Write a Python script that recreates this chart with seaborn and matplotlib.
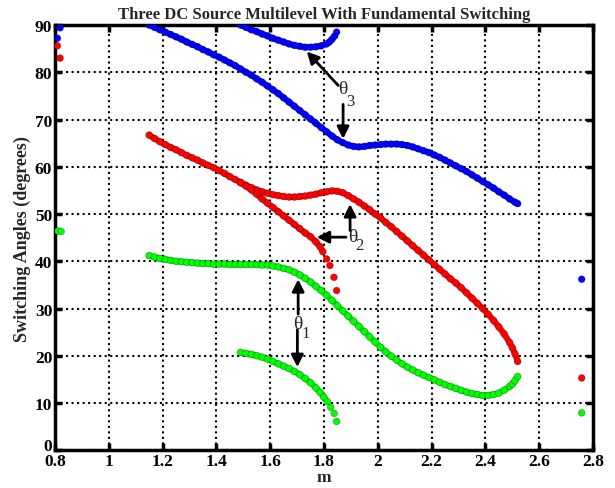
import pandas as pd
import seaborn as sns
import matplotlib
matplotlib.use("Agg")
import matplotlib.pyplot as plt

# Switching angle solutions (m, degrees)
# theta3 (blue)
blue_long_m = [1.15, 1.17, 1.19, 1.21, 1.23, 1.25, 1.27, 1.29, 1.31, 1.33, 1.35, 1.37, 1.39, 1.41,
               1.43, 1.45, 1.47, 1.49, 1.51, 1.53, 1.55, 1.57, 1.59, 1.61, 1.63, 1.65, 1.67, 1.69,
               1.71, 1.73, 1.75, 1.77, 1.79, 1.81, 1.83, 1.85, 1.87, 1.89, 1.91, 1.93, 1.95, 1.97,
               1.99, 2.01, 2.03, 2.05, 2.07, 2.09, 2.11, 2.13, 2.15, 2.17, 2.19, 2.21, 2.23, 2.25,
               2.27, 2.29, 2.31, 2.33, 2.35, 2.37, 2.39, 2.41, 2.43, 2.45, 2.47, 2.49, 2.51, 2.52]
blue_long = [90.0, 89.5, 89.0, 88.5, 88.0, 87.5, 87.0, 86.4, 85.9, 85.4, 84.8, 84.3, 83.7, 83.2,
             82.6, 82.0, 81.4, 80.7, 80.0, 79.4, 78.6, 77.9, 77.1, 76.3, 75.5, 74.6, 73.7, 72.8,
             71.9, 71.0, 70.1, 69.2, 68.3, 67.4, 66.5, 65.7, 65.1, 64.6, 64.3, 64.2, 64.3, 64.5,
             64.6, 64.7, 64.8, 64.8, 64.8, 64.7, 64.5, 64.2, 63.8, 63.4, 63.0, 62.5, 62.0, 61.4,
             60.8, 60.2, 59.6, 59.0, 58.3, 57.6, 56.9, 56.2, 55.5, 54.7, 54.0, 53.2, 52.5, 52.2]
blue_short_m = [1.49, 1.51, 1.53, 1.55, 1.57, 1.59, 1.61, 1.63, 1.65, 1.67, 1.69, 1.71, 1.73,
                1.75, 1.77, 1.79, 1.81, 1.82, 1.83, 1.84, 1.847]
blue_short = [90.0, 89.5, 89.0, 88.6, 88.1, 87.7, 87.2, 86.8, 86.4, 86.0, 85.7, 85.5, 85.3,
              85.3, 85.4, 85.6, 86.0, 86.4, 87.0, 87.7, 88.5]

# theta2 (red)
red_long_m = [1.15, 1.17, 1.19, 1.21, 1.23, 1.25, 1.27, 1.29, 1.31, 1.33, 1.35, 1.37, 1.39, 1.41,
              1.43, 1.45, 1.47, 1.49, 1.51, 1.53, 1.55, 1.57, 1.59, 1.61, 1.63, 1.65, 1.67, 1.69,
              1.71, 1.73, 1.75, 1.77, 1.79, 1.81, 1.83, 1.85, 1.87, 1.89, 1.91, 1.93, 1.95, 1.97,
              1.99, 2.01, 2.03, 2.05, 2.07, 2.09, 2.11, 2.13, 2.15, 2.17, 2.19, 2.21, 2.23, 2.25,
              2.27, 2.29, 2.31, 2.33, 2.35, 2.37, 2.39, 2.41, 2.43, 2.45, 2.47, 2.49, 2.50, 2.51, 2.52]
red_long = [66.7, 66.0, 65.3, 64.7, 64.1, 63.6, 63.0, 62.4, 61.9, 61.4, 60.8, 60.3, 59.8, 59.2,
            58.6, 57.9, 57.3, 56.7, 56.1, 55.6, 55.1, 54.7, 54.4, 54.1, 53.9, 53.7, 53.6, 53.6,
            53.7, 53.8, 54.0, 54.2, 54.5, 54.7, 54.9, 54.8, 54.5, 53.9, 53.2, 52.5, 51.7, 50.9,
            50.0, 49.2, 48.2, 47.3, 46.3, 45.3, 44.3, 43.3, 42.3, 41.3, 40.3, 39.3, 38.3, 37.3,
            36.3, 35.4, 34.4, 33.3, 32.2, 31.1, 30.0, 28.8, 27.5, 26.1, 24.6, 22.8, 21.7, 20.4, 18.8]
red_short_m = [1.49, 1.51, 1.53, 1.55, 1.57, 1.59, 1.61, 1.63, 1.65, 1.67, 1.69, 1.71, 1.73,
               1.75, 1.77, 1.785, 1.796, 1.81, 1.822, 1.837, 1.847]
red_short = [56.6, 55.9, 55.1, 54.2, 53.2, 52.3, 51.4, 50.5, 49.6, 48.7, 47.8, 46.9, 46.0,
             45.2, 44.1, 43.1, 42.0, 40.5, 39.1, 36.6, 33.8]

# theta1 (green)
green_long_m = red_long_m
green_long = [41.2, 40.9, 40.6, 40.4, 40.2, 40.0, 39.9, 39.8, 39.7, 39.6, 39.5, 39.5, 39.4, 39.4,
              39.4, 39.3, 39.3, 39.3, 39.3, 39.3, 39.3, 39.2, 39.2, 39.0, 38.8, 38.5, 38.2, 37.7,
              37.1, 36.4, 35.6, 34.7, 33.8, 32.8, 31.7, 30.6, 29.5, 28.4, 27.3, 26.2, 25.1, 24.0,
              22.9, 21.8, 20.8, 19.9, 19.1, 18.3, 17.6, 17.0, 16.4, 15.9, 15.4, 14.9, 14.4, 13.9,
              13.5, 13.1, 12.7, 12.3, 12.0, 11.8, 11.6, 11.6, 11.8, 12.1, 12.7, 13.5, 14.0, 14.7, 15.6]
green_short_m = [1.49, 1.51, 1.53, 1.55, 1.57, 1.59, 1.61, 1.63, 1.65, 1.67, 1.69, 1.71, 1.73,
                 1.75, 1.77, 1.785, 1.80, 1.812, 1.825, 1.838, 1.847]
green_short = [20.7, 20.5, 20.3, 20.0, 19.7, 19.3, 18.8, 18.3, 17.8, 17.3, 16.7, 16.0, 15.2,
               14.3, 13.2, 12.3, 11.2, 10.3, 9.1, 7.8, 6.1]

# isolated solutions at the edges
iso_m = [0.819, 0.809, 0.809, 0.819, 0.811, 0.823, 2.758, 2.758, 2.758]
iso_angle = [89.4, 87.2, 85.6, 83.0, 46.4, 46.3, 36.2, 15.3, 7.9]
iso_curve = ["theta3", "theta3", "theta2", "theta2", "theta1", "theta1", "theta3", "theta2", "theta1"]

xticks = [0.8, 1.0, 1.2, 1.4, 1.6, 1.8, 2.0, 2.2, 2.4, 2.6, 2.8]
xtick_labels = ["0.8", "1", "1.2", "1.4", "1.6", "1.8", "2", "2.2", "2.4", "2.6", "2.8"]
yticks = [0, 10, 20, 30, 40, 50, 60, 70, 80, 90]

palette = {"theta1": "#00ff00", "theta2": "#ff0000", "theta3": "#0000ff"}

# (m, angle, curve, number of sparse end points not joined by the band)
segments = [
    (blue_long_m, blue_long, "theta3", 0),
    (blue_short_m, blue_short, "theta3", 1),
    (red_long_m, red_long, "theta2", 0),
    (red_short_m, red_short, "theta2", 4),
    (green_long_m, green_long, "theta1", 0),
    (green_short_m, green_short, "theta1", 3),
]

frames = [pd.DataFrame({"m": m, "angle": a, "curve": c}) for m, a, c, _ in segments]
frames.append(pd.DataFrame({"m": iso_m, "angle": iso_angle, "curve": iso_curve}))
df = pd.concat(frames, ignore_index=True)

sns.set_style("ticks")
plt.rcParams["font.family"] = ["Liberation Serif", "DejaVu Serif"]
plt.rcParams["font.weight"] = "bold"

fig = plt.figure(figsize=(6.15, 4.89), dpi=100)
ax = fig.add_axes([0.0894, 0.0772, 0.8748, 0.8696])

# dense chain of markers: a band under the points
for m, a, c, nsparse in segments:
    seg = pd.DataFrame({"m": m, "angle": a})
    if nsparse:
        seg = seg.iloc[:-nsparse]
    sns.lineplot(data=seg, x="m", y="angle", sort=False, estimator=None,
                 color=palette[c], lw=4.2, ax=ax, zorder=2)
    sns.lineplot(data=seg, x="m", y="angle", sort=False, estimator=None,
                 color=(0, 0, 0, 0.18), lw=5.0, ax=ax, zorder=1.9)

sns.scatterplot(data=df, x="m", y="angle", hue="curve", palette=palette, s=24,
                edgecolor=(0, 0, 0, 0.35), linewidth=0.5, legend=False, ax=ax, zorder=3)

ax.set_xlim(0.8, 2.8)
ax.set_ylim(0, 90)
ax.set_xticks(xticks)
ax.set_xticklabels(xtick_labels)
ax.set_yticks(yticks)
ax.grid(True, linestyle=":", color="k", linewidth=1.5)
ax.set_axisbelow(True)
for sp in ax.spines.values():
    sp.set_linewidth(2.5)
    sp.set_color("k")
ax.tick_params(direction="in", length=5, width=2.5, top=True, right=True,
               labelsize=12.5, pad=2, colors="k")
for lab in ax.get_xticklabels() + ax.get_yticklabels():
    lab.set_fontweight("bold")
# the "0" sits just above the "0.8", as in the original
ax.get_yticklabels()[0].set_verticalalignment("baseline")

ax.set_title("Three DC Source Multilevel With Fundamental Switching",
             fontsize=12, fontweight="bold", pad=5)
ax.set_xlabel("m", fontsize=12.5, fontweight="bold", labelpad=0)
ax.set_ylabel("Switching Angles (degrees)", fontsize=13, fontweight="bold", labelpad=3)

arrow = dict(arrowstyle="-|>,head_length=0.6,head_width=0.3", color="k", lw=2,
             mutation_scale=12, shrinkA=0, shrinkB=0)
# theta3
ax.annotate("", xy=(1.736, 84.4), xytext=(1.853, 77.2), arrowprops=arrow)
ax.annotate("", xy=(1.871, 65.9), xytext=(1.871, 73.2), arrowprops=arrow)
ax.text(1.869, 76.5, "θ", fontsize=14, fontweight="normal", ha="center", va="center")
ax.text(1.897, 73.9, "3", fontsize=12, fontweight="normal", ha="center", va="center")
# theta2
ax.annotate("", xy=(1.773, 45.1), xytext=(1.882, 45.1), arrowprops=arrow)
ax.annotate("", xy=(1.897, 52.1), xytext=(1.897, 46.5), arrowprops=arrow)
ax.text(1.906, 45.3, "θ", fontsize=14, fontweight="normal", ha="center", va="center")
ax.text(1.932, 43.4, "2", fontsize=12, fontweight="normal", ha="center", va="center")
# theta1
ax.annotate("", xy=(1.704, 36.2), xytext=(1.704, 28.8), arrowprops=arrow)
ax.annotate("", xy=(1.701, 17.6), xytext=(1.701, 25.5), arrowprops=arrow)
ax.text(1.703, 26.8, "θ", fontsize=14, fontweight="normal", ha="center", va="center")
ax.text(1.731, 24.9, "1", fontsize=12, fontweight="normal", ha="center", va="center")

fig.savefig("out.png", dpi=100)
